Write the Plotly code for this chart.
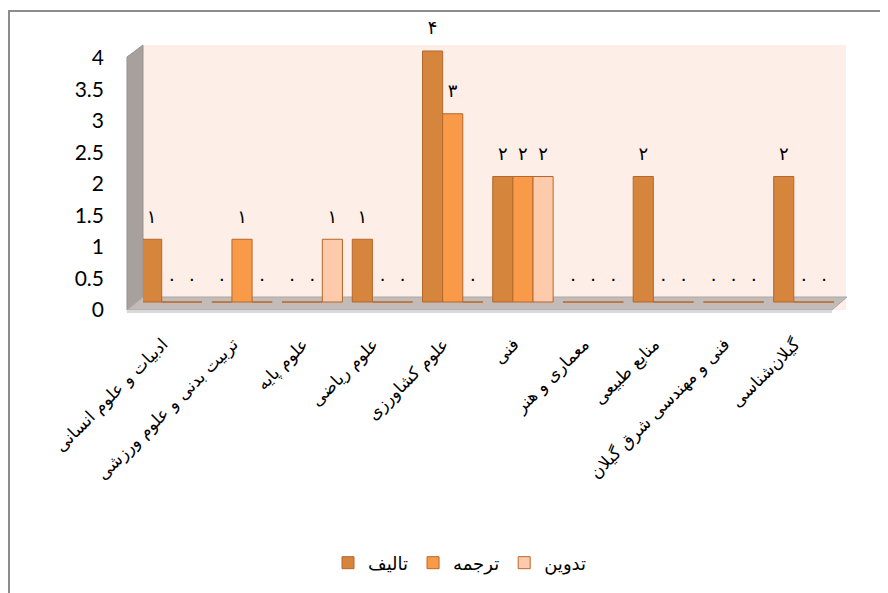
import plotly.graph_objects as go

categories = [
    "ادبیات و علوم انسانی",
    "تربیت بدنی و علوم ورزشی",
    "علوم پایه",
    "علوم ریاضی",
    "علوم کشاورزی",
    "فنی",
    "معماری و هنر",
    "منابع طبیعی",
    "فنی و مهندسی شرق گیلان",
    "گیلان‌شناسی",
]
series_names = ["تالیف", "ترجمه", "تدوین"]
taalif = [1, 0, 0, 1, 4, 2, 0, 2, 0, 2]
tarjome = [0, 1, 0, 0, 3, 2, 0, 0, 0, 0]
tadvin = [0, 0, 1, 0, 0, 2, 0, 0, 0, 0]
y_tick_vals = [0, 0.5, 1, 1.5, 2, 2.5, 3, 3.5, 4]
y_tick_text = ["0", "0.5", "1", "1.5", "2", "2.5", "3", "3.5", "4"]

colors = ["#D6853D", "#F99A48", "#FDCAAC"]
edge = "#B5672C"
fa_digits = str.maketrans("0123456789", "۰۱۲۳۴۵۶۷۸۹")
FA_FONT = "DejaVu Sans"

W, H = 888, 593
OFF = 8  # page body margin
L, R, T, B = 143 - OFF, 846 - OFF, 45 - OFF, 310 - OFF
ZERO = 302 - OFF
UNIT = 62.75


def px(x):
    return (x - OFF - L) / (R - L)


def py(y):
    return (B - (y - OFF)) / (B - T)


fig = go.Figure()
for name, vals, col in zip(series_names, [taalif, tarjome, tadvin], colors):
    fig.add_trace(go.Bar(
        x=categories, y=vals, name=name,
        marker=dict(color=col, line=dict(color=edge, width=1)),
        text=[str(v).translate(fa_digits) for v in vals],
        texttemplate="<span style='font-size:18px'>%{text}</span><br> ",
        textposition="outside", cliponaxis=False,
        textfont=dict(family=FA_FONT, size=9, color="black"),
    ))

# invisible trace to carry the label axis
fig.add_trace(go.Scatter(x=[categories[0]], y=[0], yaxis="y2", mode="markers",
                         marker=dict(opacity=0), showlegend=False, hoverinfo="skip"))


def poly(pts):
    return "M " + " L ".join(f"{px(a):.5f},{py(b):.5f}" for a, b in pts) + " Z"


shapes = [
    # left wall
    dict(type="path", xref="paper", yref="paper", layer="below",
         path=poly([(127, 57), (143, 45), (143, 298), (127, 310)]),
         fillcolor="#A8A09C", line=dict(color="#9A928E", width=1)),
    # floor
    dict(type="path", xref="paper", yref="paper", layer="below",
         path=poly([(127, 310), (143, 297), (847, 297), (832, 310)]),
         fillcolor="#C3BBB7", line=dict(color="#A9A9A9", width=1)),
    dict(type="path", xref="paper", yref="paper", layer="below",
         path=poly([(127, 310), (832, 310), (832, 313), (127, 313)]),
         fillcolor="#D9D9D9", line=dict(width=0)),
    # outer border
    dict(type="rect", xref="paper", yref="paper", layer="above",
         x0=px(9), x1=px(905), y0=py(610), y1=py(11),
         fillcolor="rgba(0,0,0,0)", line=dict(color="#8C8C8C", width=2)),
]

fig.update_layout(
    width=W, height=H,
    margin=dict(l=L, r=W - R, t=T, b=H - B),
    paper_bgcolor="white", plot_bgcolor="#FDEEE7",
    barmode="group", bargap=0.14, bargroupgap=0,
    showlegend=True,
    legend=dict(orientation="h", x=px(460), xanchor="center", y=py(563), yanchor="middle",
                font=dict(family=FA_FONT, size=18, color="black"),
                itemwidth=30, traceorder="normal"),
    xaxis=dict(range=[-0.41, 9.6], tickangle=-45, showgrid=False, zeroline=False,
               showline=False, ticks="", ticklabelstandoff=20, ticklabelshift=-9,
               tickfont=dict(family=FA_FONT, size=17, color="black")),
    yaxis=dict(range=[-(B - ZERO) / UNIT, (ZERO - T) / UNIT], showgrid=False, zeroline=False,
               showticklabels=False, showline=False),
    yaxis2=dict(overlaying="y", side="left", range=[0, (B - T) / 63.0],
                tickvals=y_tick_vals, ticktext=y_tick_text, showgrid=False, zeroline=False,
                showline=False, ticks="", ticklabelstandoff=38,
                tickfont=dict(family="Lato", size=21, color="black")),
    shapes=shapes,
    font=dict(family=FA_FONT),
)

fig.write_html("out.html")
